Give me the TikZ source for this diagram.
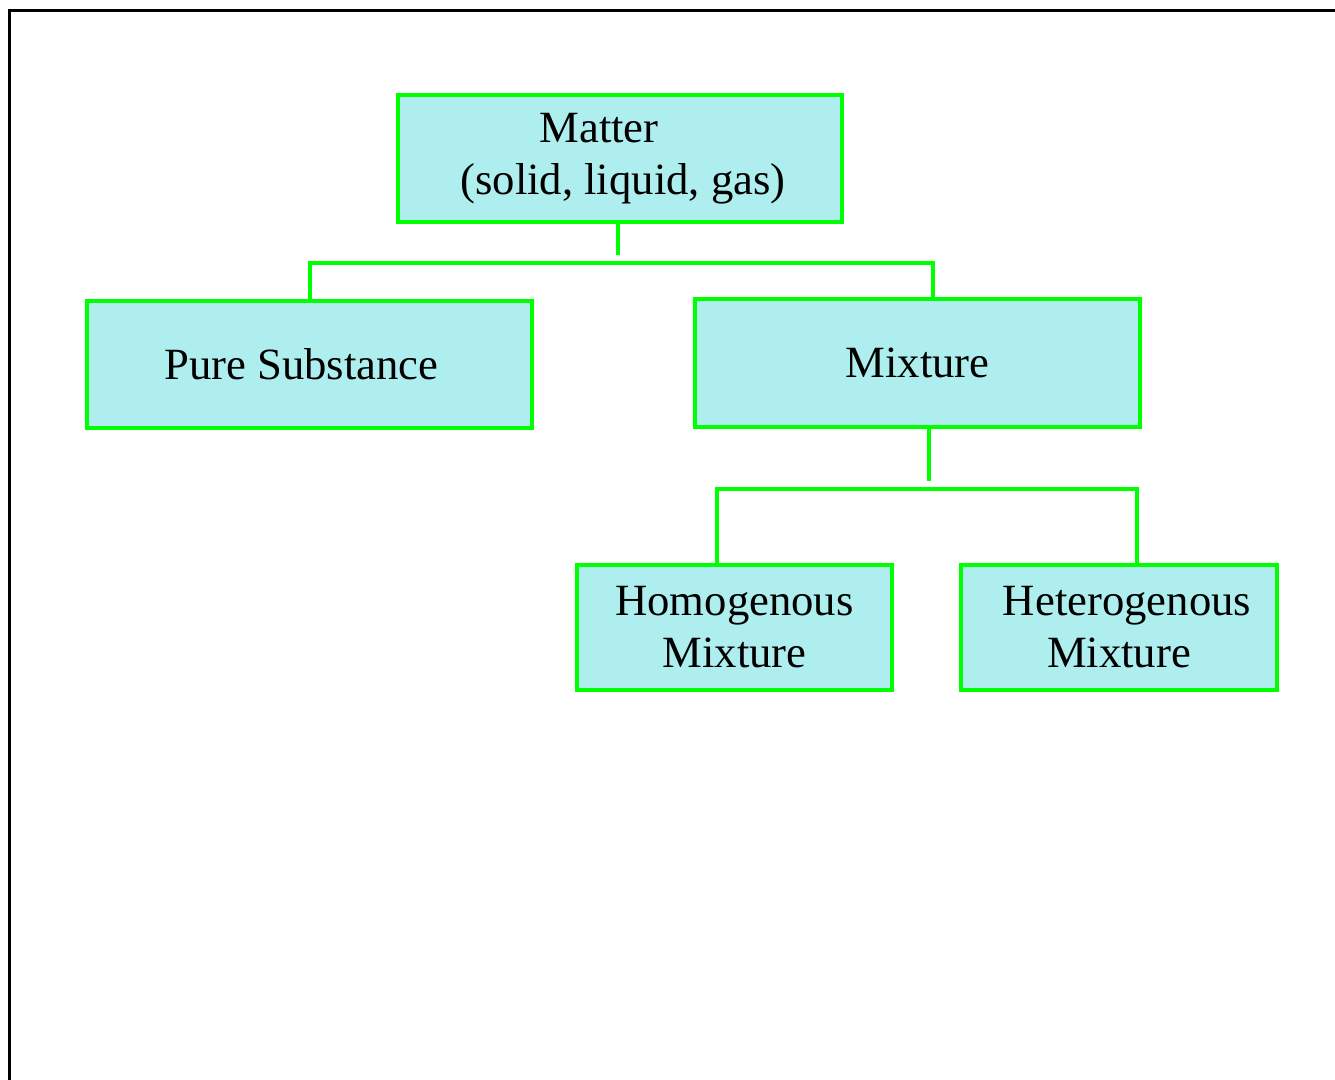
\documentclass[tikz,border=0pt]{standalone}
\usepackage{fontspec}
\setmainfont{Liberation Serif}
\definecolor{boxfill}{HTML}{AFEEEE}
\definecolor{boxline}{HTML}{00FF00}
\tikzset{
  classbox/.style={draw=boxline, fill=boxfill, line width=3pt, inner sep=0pt,
    align=center, font=\fontsize{33.5}{39}\selectfont},
  branch/.style={draw=boxline, line width=3pt},
  frame/.style={draw=black, line width=2.25pt}
}
\begin{document}
\begin{tikzpicture}[x=0.75pt, y=-0.75pt]
  \useasboundingbox (0,0) rectangle (1335,1079);
  \clip (0,0) rectangle (1335,1079);
  % outer frame (runs off the right and bottom edges)
  \draw[frame] (9.5,1100) -- (9.5,10) -- (1360,10);

  % classification boxes
  \node[classbox, minimum width=333pt, minimum height=95.25pt] (matter) at (620,158.5)
    {Matter\hspace*{31.5pt}\\\hspace*{4.5pt}(solid, liquid, gas)};
  \node[classbox, minimum width=333.75pt, minimum height=95.25pt] (pure) at (309.5,364.5)
    {Pure Substance\hspace*{12pt}};
  \node[classbox, minimum width=333.75pt, minimum height=96pt] (mixture) at (917.5,363)
    {Mixture};
  \node[classbox, minimum width=236.25pt, minimum height=93.75pt] (homog) at (734.5,627.5)
    {Homogenous\\Mixture};
  \node[classbox, minimum width=237pt, minimum height=93.75pt] (hetero) at (1119,627.5)
    {\hspace*{12pt}Heterogenous\\Mixture};

  % branch points
  \coordinate (mj) at (618,255);
  \coordinate (b1) at (310,263);
  \coordinate (b2) at (933,263);
  \coordinate (xj) at (929,481);
  \coordinate (c1) at (717,489);
  \coordinate (c2) at (1137,489);

  % connectors
  \draw[branch] (matter.south -| mj) -- (mj);
  \draw[branch] (pure.north -| b1) -- (b1) -- (b2) -- (mixture.north -| b2);
  \draw[branch] (mixture.south -| xj) -- (xj);
  \draw[branch] (homog.north -| c1) -- (c1) -- (c2) -- (hetero.north -| c2);
\end{tikzpicture}
\end{document}
